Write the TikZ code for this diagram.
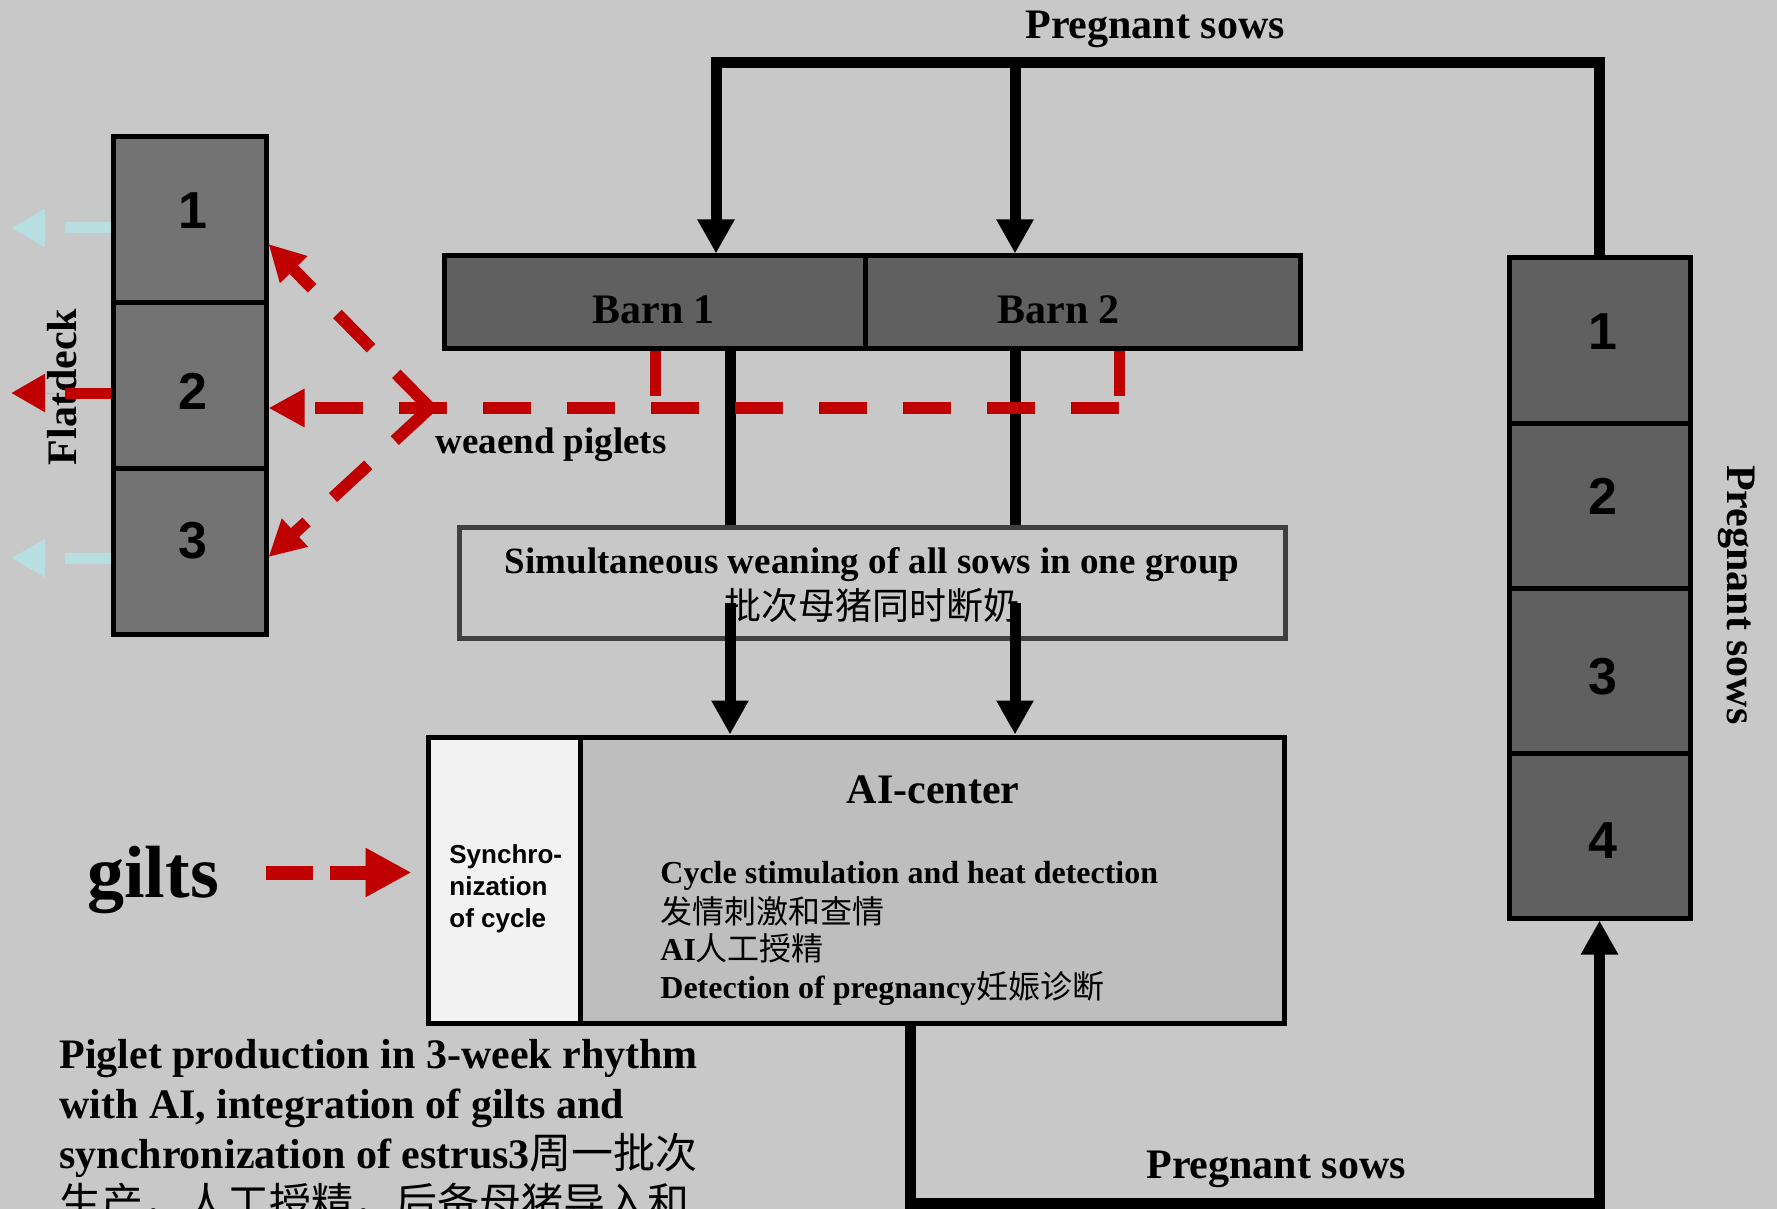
\documentclass[tikz,border=0pt]{standalone}
\usepackage{fontspec}
\setmainfont{Liberation Serif}
\newfontfamily\arialf{Liberation Sans}
\newfontfamily\cjk{Noto Sans CJK SC}
\usetikzlibrary{arrows.meta,calc}
\definecolor{bg}{HTML}{C8C8C8}
\definecolor{redd}{HTML}{C00000}
\definecolor{cyanl}{HTML}{B7DFE1}
\definecolor{stackL}{HTML}{737373}
\definecolor{stackR}{HTML}{606060}
\definecolor{aigray}{HTML}{BEBEBE}
\definecolor{synw}{HTML}{F2F2F2}
\definecolor{boxedge}{HTML}{404040}
\begin{document}
\begin{tikzpicture}[x=0.5pt,y=-0.5pt,
  numL/.style={inner sep=0pt, font=\arialf\bfseries\fontsize{26}{30}\selectfont},
  cellL/.style={draw=black, fill=stackL, line width=2.5pt, inner sep=0pt,
    minimum width=76.5pt, minimum height=83pt},
  cellR/.style={draw=black, fill=stackR, line width=2.5pt, inner sep=0pt,
    minimum width=90.5pt, minimum height=82.5pt},
  barn/.style={draw=black, fill=stackR, line width=2.5pt, inner sep=0pt, minimum height=46pt},
  txt/.style={inner sep=0pt, font=\bfseries\fontsize{21}{25}\selectfont},
  txtm/.style={inner sep=0pt, font=\bfseries\fontsize{18.5}{22}\selectfont},
  txts/.style={inner sep=0pt, font=\bfseries\fontsize{16}{19}\selectfont},
  synt/.style={inner sep=0pt, font=\arialf\bfseries\fontsize{13}{16}\selectfont},
  flow/.style={draw=black, line width=5.5pt, line join=miter},
  flowarr/.style={flow, -{Triangle[length=17pt,width=17.5pt]}},
  redline/.style={draw=redd, line width=5.5pt},
  reddash/.style={draw=redd, line width=6pt, dash pattern=on 24pt off 18pt,
    -{Triangle[length=18pt,width=18pt]}},
  outarr/.style={line width=5.5pt, dash pattern=on 23pt off 11pt,
    -{Triangle[length=17pt,width=18pt]}},
  gdash/.style={draw=redd, line width=7pt, dash pattern=on 23.5pt off 8.5pt,
    -{Triangle[length=23pt,width=23pt]}}
]
\useasboundingbox (0,0) rectangle (1777,1209);
\clip (0,0) rectangle (1777,1209);
\fill[bg] (0,0) rectangle (1777,1209);

% left stack (Flatdeck)
\node[cellL] (L1) at (189.5,219.5) {};
\node[cellL] (L2) at (189.5,385.5) {};
\node[cellL] (L3) at (189.5,551.5) {};
\node[numL] (nL1) at (193,211) {1};
\node[numL] (nL2) at (193,391) {2};
\node[numL] (nL3) at (193,541) {3};
\node[txt, rotate=90] (flat) at (62,387) {Flatdeck};

% right stack
\node[cellR] (R1) at (1599.5,340.5) {};
\node[cellR] (R2) at (1599.5,505.5) {};
\node[cellR] (R3) at (1599.5,670.5) {};
\node[cellR] (R4) at (1599.5,835.5) {};
\node[numL] (nR1) at (1603,332) {1};
\node[numL] (nR2) at (1603,496) {2};
\node[numL] (nR3) at (1603,677) {3};
\node[numL] (nR4) at (1603,841) {4};
\node[txt, rotate=-90] (pright) at (1737,595) {Pregnant sows};

% barns
\node[barn, minimum width=210.5pt] (B1) at (654.5,302) {};
\node[barn, minimum width=217.5pt] (B2) at (1082.5,302) {};
\node[txt, anchor=base west] (b1t) at (592,323) {Barn 1};
\node[txt, anchor=base west] (b2t) at (997,323) {Barn 2};

% simultaneous weaning box
\node[draw=boxedge, line width=2.5pt, fill=bg, minimum width=413pt, minimum height=55.5pt, inner sep=0pt] (S) at (872,582.5) {};
\node[txtm, anchor=base] (s1) at (872,573) {Simultaneous weaning of all sows in one group};
\node[inner sep=0pt, font=\cjk\fontsize{18.5}{22}\selectfont] (s2) at (872,605) {批次母猪同时断奶};

% AI center
\node[draw=black, fill=synw, line width=2.5pt, minimum width=76pt, minimum height=143pt, inner sep=0pt] (AL) at (504,880) {};
\node[draw=black, fill=aigray, line width=2.5pt, minimum width=352pt, minimum height=143pt, inner sep=0pt] (AR) at (932,880) {};
\node[synt, anchor=base west] (sy1) at (449,863) {Synchro-};
\node[synt, anchor=base west] (sy2) at (449,895) {nization};
\node[synt, anchor=base west] (sy3) at (449,927) {of cycle};
\node[txt, anchor=base] (ait) at (933,803) {AI-center};
\node[txts, anchor=base west] (li1) at (660,883) {Cycle stimulation and heat detection};
\node[inner sep=0pt, anchor=west, font=\cjk\fontsize{16}{19}\selectfont] (li2) at (660,911) {发情刺激和查情};
\node[txts, anchor=base west] (li3) at (660,960) {AI{\cjk\mdseries 人工授精}};
\node[txts, anchor=base west] (li4) at (660,998) {Detection of pregnancy{\cjk\mdseries 妊娠诊断}};

% gilts
\node[inner sep=0pt, anchor=base west, font=\bfseries\fontsize{37}{44}\selectfont] (gilts) at (87,897) {gilts};

% labels
\node[txt, anchor=base west] (ptop) at (1025,39) {Pregnant sows};
\node[txt, anchor=base west] (pbot) at (1146,1178) {Pregnant sows};
\node[txtm, anchor=base west] (wp) at (435,453) {weaend piglets};

% bottom caption
\node[txt, anchor=base west] (c1) at (59,1068) {Piglet production in 3-week rhythm};
\node[txt, anchor=base west] (c2) at (59,1118) {with AI, integration of gilts and};
\node[txt, anchor=base west] (c3) at (59,1168) {synchronization of estrus3{\cjk\mdseries 周一批次}};
\node[inner sep=0pt, anchor=base west, font=\cjk\fontsize{21}{25}\selectfont] (c4) at (59,1218) {生产，人工授精，后备母猪导入和};

% coordinates
\coordinate (tl) at (716,63);
\coordinate (tm) at (1015,63);
\coordinate (c1x) at (730,603);
\coordinate (c2x) at (1015,603);
\coordinate (bl) at (910,1203);
\coordinate (apex) at (430,408);
\coordinate (hstart) at (1119,408);
\coordinate (rv1) at (655,396);
\coordinate (rv2) at (1119,396);
\coordinate (o1) at (11,228);
\coordinate (o2) at (11,393);
\coordinate (o3) at (11,558);

% black flows
\draw[flowarr] (R1.north) -- (R1.north |- tl) -- (tl) -- (tl |- B1.north);
\draw[flowarr] (tm) -- (tm |- B2.north);
\draw[flow] (c1x |- B1.south) -- (c1x |- S.north);
\draw[flow] (c2x |- B2.south) -- (c2x |- S.north);
\draw[flowarr] (c1x) -- (c1x |- AR.north);
\draw[flowarr] (c2x) -- (c2x |- AR.north);
\draw[flowarr] (AR.south -| bl) -- (bl) -- (bl -| R4.south) -- (R4.south);

% red weaned piglets
\draw[redline] (rv1 |- B1.south) -- (rv1);
\draw[redline] (rv2 |- B2.south) -- (rv2);
\draw[reddash] (hstart) -- (L2.east |- apex);
\draw[reddash] (apex) -- ([yshift=-12.25pt]L1.east);
\draw[reddash] (apex) -- ([yshift=-2.75pt]L3.east);

% outflows from flatdeck
\draw[outarr, draw=cyanl, fill=cyanl] ([yshift=-4.25pt]L1.west) -- (o1);
\draw[outarr, draw=redd, fill=redd] ([yshift=-3.75pt]L2.west) -- (o2);
\draw[outarr, draw=cyanl, fill=cyanl] ([yshift=-3.25pt]L3.west) -- (o3);

% gilts arrow
\draw[gdash] ([xshift=23.5pt,yshift=3.5pt]gilts.east) -- ([xshift=-7pt,yshift=3.5pt]gilts.east -| AL.west);
\end{tikzpicture}
\end{document}
